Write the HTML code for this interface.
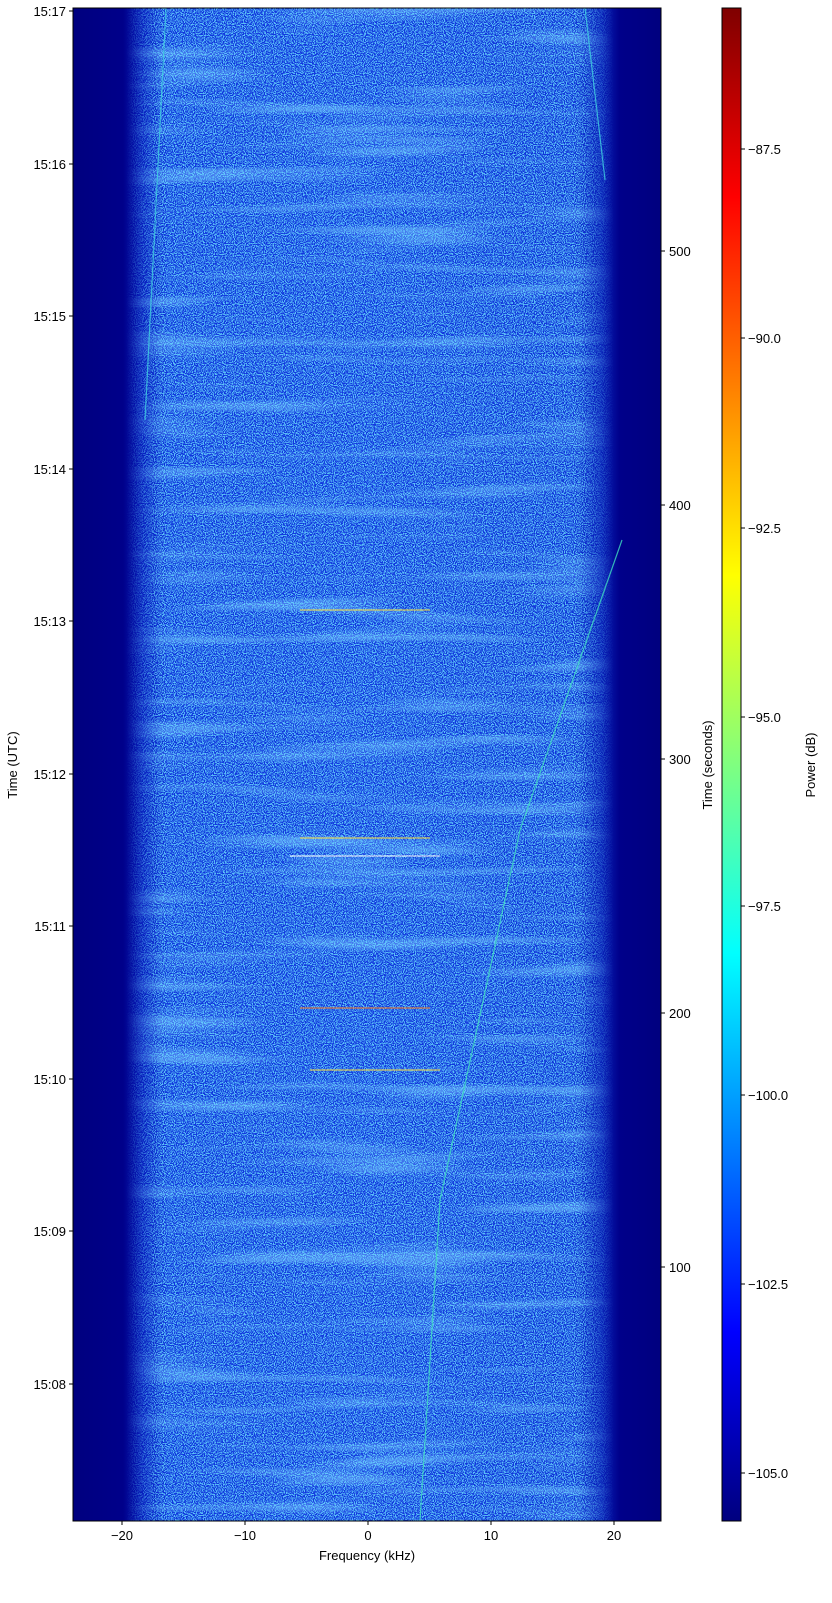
<!DOCTYPE html>
<html><head><meta charset="utf-8"><style>
html,body{margin:0;padding:0;background:#fff;width:832px;height:1603px;overflow:hidden}
svg text{font-family:"Liberation Sans",sans-serif;font-size:13px;fill:#000}
</style></head><body>
<svg width="832" height="1603" viewBox="0 0 832 1603" xmlns="http://www.w3.org/2000/svg">
<defs>
<linearGradient id="band" x1="73" x2="661" y1="0" y2="0" gradientUnits="userSpaceOnUse">
<stop offset="0" stop-color="#00007f"/>
<stop offset="0.085" stop-color="#00008a"/>
<stop offset="0.12" stop-color="#0820c0"/>
<stop offset="0.16" stop-color="#1036dc"/>
<stop offset="0.5" stop-color="#1238de"/>
<stop offset="0.85" stop-color="#1034d8"/>
<stop offset="0.9" stop-color="#0820b8"/>
<stop offset="0.93" stop-color="#00008a"/>
<stop offset="1" stop-color="#00007f"/>
</linearGradient>
<linearGradient id="mask" x1="73" x2="661" y1="0" y2="0" gradientUnits="userSpaceOnUse">
<stop offset="0.09" stop-color="#000"/>
<stop offset="0.15" stop-color="#fff"/>
<stop offset="0.86" stop-color="#fff"/>
<stop offset="0.92" stop-color="#000"/>
</linearGradient>
<mask id="m"><rect x="73" y="8" width="588" height="1513" fill="url(#mask)"/></mask>
<filter id="speck" x="0" y="0" width="1" height="1">
<feTurbulence type="fractalNoise" baseFrequency="0.9 0.9" numOctaves="1" seed="3"/>
<feColorMatrix type="matrix" values="0 0 0 0 0.15  0 0 0 0 0.75  0 0 0 0 1  0 0 0 -12 6.3"/>
</filter>
<filter id="stripes" x="0" y="0" width="1" height="1">
<feTurbulence type="fractalNoise" baseFrequency="0.004 0.06" numOctaves="2" seed="7"/>
<feColorMatrix type="matrix" values="0 0 0 0 0.2  0 0 0 0 0.5  0 0 0 0 1  0 0 0 4 -2.1"/>
</filter>
<linearGradient id="jet" x1="0" x2="0" y1="1" y2="0">
<stop offset="0" stop-color="#00007f"/>
<stop offset="0.125" stop-color="#0000ff"/>
<stop offset="0.375" stop-color="#00ffff"/>
<stop offset="0.625" stop-color="#ffff00"/>
<stop offset="0.875" stop-color="#ff0000"/>
<stop offset="1" stop-color="#7f0000"/>
</linearGradient>
</defs>
<rect x="73" y="8" width="588" height="1513" fill="url(#band)"/>
<g mask="url(#m)">
<rect x="73" y="8" width="588" height="1513" filter="url(#stripes)" opacity="0.5"/>
<rect x="73" y="8" width="588" height="1513" filter="url(#speck)" opacity="0.8"/>
</g>
<g stroke-width="1.2" fill="none" opacity="0.8">
<line x1="420" y1="1521" x2="440" y2="1200" stroke="#40e0c0"/>
<line x1="440" y1="1200" x2="520" y2="830" stroke="#40e0c0"/>
<line x1="520" y1="830" x2="622" y2="540" stroke="#40e0c0"/>
<line x1="166" y1="8" x2="145" y2="420" stroke="#40d0e0"/>
<line x1="585" y1="8" x2="605" y2="180" stroke="#40d0e0"/>
<line x1="300" y1="610" x2="430" y2="610" stroke="#ffe040"/>
<line x1="300" y1="1008" x2="430" y2="1008" stroke="#ff8020"/>
<line x1="300" y1="838" x2="430" y2="838" stroke="#ffe040"/>
<line x1="310" y1="1070" x2="440" y2="1070" stroke="#ffe040"/>
<line x1="290" y1="856" x2="440" y2="856" stroke="#ffffff"/>
</g>
<rect x="73" y="8" width="588" height="1513" fill="none" stroke="#000" stroke-width="1"/>
<g stroke="#000">
<line x1="122" y1="1521" x2="122" y2="1525"/><line x1="245" y1="1521" x2="245" y2="1525"/><line x1="368" y1="1521" x2="368" y2="1525"/><line x1="491" y1="1521" x2="491" y2="1525"/><line x1="614" y1="1521" x2="614" y2="1525"/>
<line x1="69" y1="11" x2="73" y2="11"/><line x1="69" y1="164" x2="73" y2="164"/><line x1="69" y1="316" x2="73" y2="316"/><line x1="69" y1="469" x2="73" y2="469"/><line x1="69" y1="621" x2="73" y2="621"/><line x1="69" y1="774" x2="73" y2="774"/><line x1="69" y1="926" x2="73" y2="926"/><line x1="69" y1="1079" x2="73" y2="1079"/><line x1="69" y1="1231" x2="73" y2="1231"/><line x1="69" y1="1384" x2="73" y2="1384"/>
<line x1="661" y1="251" x2="665" y2="251"/><line x1="661" y1="505" x2="665" y2="505"/><line x1="661" y1="759" x2="665" y2="759"/><line x1="661" y1="1013" x2="665" y2="1013"/><line x1="661" y1="1267" x2="665" y2="1267"/>
</g>
<g text-anchor="middle">
<text x="122" y="1540">−20</text><text x="245" y="1540">−10</text><text x="368" y="1540">0</text><text x="491" y="1540">10</text><text x="614" y="1540">20</text>
<text x="367" y="1560">Frequency (kHz)</text>
</g>
<g text-anchor="end">
<text x="66" y="16">15:17</text><text x="66" y="169">15:16</text><text x="66" y="321">15:15</text><text x="66" y="474">15:14</text><text x="66" y="626">15:13</text><text x="66" y="779">15:12</text><text x="66" y="931">15:11</text><text x="66" y="1084">15:10</text><text x="66" y="1236">15:09</text><text x="66" y="1389">15:08</text>
</g>
<text transform="translate(17,765) rotate(-90)" text-anchor="middle">Time (UTC)</text>
<g>
<text x="669" y="256">500</text><text x="669" y="510">400</text><text x="669" y="764">300</text><text x="669" y="1018">200</text><text x="669" y="1272">100</text>
</g>
<text transform="translate(712,765) rotate(-90)" text-anchor="middle">Time (seconds)</text>
<rect x="722" y="8" width="19" height="1513" fill="url(#jet)" stroke="#000" stroke-width="1"/>
<g stroke="#000">
<line x1="741" y1="149" x2="745" y2="149"/><line x1="741" y1="338" x2="745" y2="338"/><line x1="741" y1="528" x2="745" y2="528"/><line x1="741" y1="717" x2="745" y2="717"/><line x1="741" y1="906" x2="745" y2="906"/><line x1="741" y1="1095" x2="745" y2="1095"/><line x1="741" y1="1284" x2="745" y2="1284"/><line x1="741" y1="1473" x2="745" y2="1473"/>
</g>
<g>
<text x="748" y="154">−87.5</text><text x="748" y="343">−90.0</text><text x="748" y="533">−92.5</text><text x="748" y="722">−95.0</text><text x="748" y="911">−97.5</text><text x="748" y="1100">−100.0</text><text x="748" y="1289">−102.5</text><text x="748" y="1478">−105.0</text>
</g>
<text transform="translate(815,765) rotate(-90)" text-anchor="middle">Power (dB)</text>
</svg>
</body></html>
